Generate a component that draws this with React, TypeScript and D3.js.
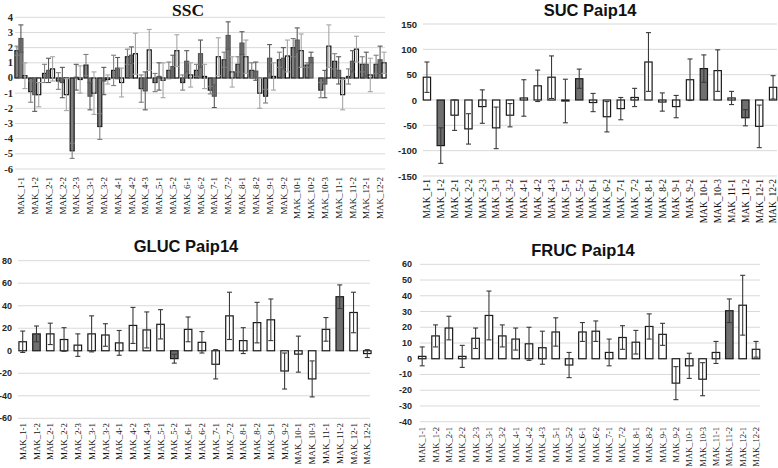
import * as d3 from 'd3';

// categories (SSC has MAK_10-2, the sugar panels do not)
const SSC_CATS = [
  'MAK_1-1', 'MAK_1-2', 'MAK_2-1', 'MAK_2-2', 'MAK_2-3', 'MAK_3-1', 'MAK_3-2',
  'MAK_4-1', 'MAK_4-2', 'MAK_4-3', 'MAK_5-1', 'MAK_5-2', 'MAK_6-1', 'MAK_6-2',
  'MAK_7-1', 'MAK_7-2', 'MAK_8-1', 'MAK_8-2', 'MAK_9-1', 'MAK_9-2', 'MAK_10-1',
  'MAK_10-2', 'MAK_10-3', 'MAK_11-1', 'MAK_11-2', 'MAK_12-1', 'MAK_12-2',
];
const SUGAR_CATS = SSC_CATS.filter((c) => c !== 'MAK_10-2');

// SSC, three overlapping series per category
const SSC_A = [1.8, -0.9, 0.3, -0.2, -4.8, 0.85, -3.2, 0.5, 1.4, -0.7, -0.3, 0.5, -0.3, 0.5, -0.8, 1.2, 0.9, 0.5, -1.2, 1.2, 2.0, 0.85, -0.8, 1.1, 0.1, 0.9, 0.9];
const SSC_A_ERR = [0.3, 0.7, 0.6, 0.55, 0.5, 0.7, 0.85, 1.0, 0.5, 0.9, 0.6, 0.55, 0.5, 0.4, 0.25, 0.5, 0.5, 0.5, 0.45, 0.5, 0.6, 0.15, 0.5, 0.5, 0.5, 0.5, 0.6];
const SSC_B = [2.6, -1.1, 0.5, -0.3, 0.05, -1.2, -0.2, 0.65, 1.5, -0.85, 0.1, 0.75, 1.1, 1.6, -1.2, 2.8, 2.3, 0.45, 1.3, 1.3, 2.5, 1.35, -0.4, 0.5, 1.1, 0.9, 1.2];
const SSC_B_ERR = [0.9, 1.1, 0.8, 1.0, 0.85, 0.9, 0.9, 0.7, 0.55, 1.25, 0.9, 0.75, 0.7, 0.9, 0.75, 0.9, 0.75, 0.6, 0.9, 0.7, 0.8, 0.35, 0.9, 0.9, 0.7, 0.8, 0.9];
const SSC_C = [0.15, -1.1, 0.6, -1.1, -0.1, -1.0, -0.1, -0.3, 1.6, 1.85, -0.15, 1.8, 0.2, 0.1, 1.4, 0.4, 1.4, -1.0, 0.1, 1.45, 1.8, 0, 2.1, -1.1, 1.9, 0.2, 1.0];
const SSC_C_ERR = [0.85, 0.8, 0.8, 1.05, 0.9, 1.4, 0.3, 0.95, 1.35, 1.35, 1.15, 1.05, 0.8, 0.8, 1.25, 1.0, 1.1, 1.0, 0.9, 1.05, 1.1, 0, 1.4, 1.0, 0.85, 1.1, 0.7];

const SUC_VALUES = [45, -90, -30, -57, -13, -55, -30, 4, 28, 45, -2, 42, -5, -33, -17, 5, 75, -4, -13, 40, 62, 58, 4, -35, -52, 25];
const SUC_ERR = [30, 35, 30, 30, 33, 41, 23, 36, 31, 42, 43, 19, 18, 30, 22, 18, 58, 18, 22, 41, 27, 41, 13, 16, 42, 23];
const SUC_DARK = ['MAK_1-2', 'MAK_5-2', 'MAK_10-1', 'MAK_11-2'];

const GLUC_VALUES = [8, 15, 15, 10, 5, 15, 14, 7, 22.5, 18.5, 23.5, -7, 19, 7.5, -12, 31, 9, 25, 27.5, -18, -3, -25, 19, 48, 34, -2.5];
const GLUC_ERR = [9.5, 7, 9.5, 10.5, 10, 16, 10, 11, 16, 16, 13, 4, 11, 9.5, 13, 21, 11.5, 18, 18.5, 16, 16, 16, 10.5, 10.5, 18, 3.5];
const GLUC_DARK = ['MAK_1-2', 'MAK_5-2', 'MAK_11-2'];

const FRUC_VALUES = [1.5, 14.5, 19.5, 1.5, 13, 27.5, 14.5, 12.5, 9.5, 7, 17, -4, 17, 17.5, 4, 13.5, 10.5, 20.5, 15.5, -15.5, -4.5, -13, 4, 30.5, 34, 6];
const FRUC_ERR = [6, 7, 7.5, 7, 6.5, 15.5, 7, 7, 10.5, 10.5, 9, 8, 6, 6.5, 8.5, 7.5, 7.5, 8, 7, 10.5, 8, 10.5, 7, 7.5, 19, 5];
const FRUC_DARK = ['MAK_11-2'];

const SSC_TICKS = [4, 3, 2, 1, 0, -1, -2, -3, -4, -5, -6];
const SUC_TICKS = [150, 100, 50, 0, -50, -100, -150];
const GLUC_TICKS = [80, 60, 40, 20, 0, -20, -40, -60];
const FRUC_TICKS = [60, 50, 40, 30, 20, 10, 0, -10, -20, -30, -40];

const SERIF = '"Liberation Serif", "Times New Roman", serif';
const SANS = '"Liberation Sans", Arial, sans-serif';

interface Series {
  values: number[];
  errors: number[];
  fill: (cat: string) => string;
  stroke: string;
  errColor: string;
}

interface PanelProps {
  title: string;
  titleX: number;
  titleY: number;
  titleFont: string;
  titleSize: number;
  cats: string[];
  series: Series[];
  domain: [number, number];
  ticks: number[];
  xRange: [number, number];
  yRange: [number, number];
  grid: [number, number];
  tickRight: number;
  tickFont: string;
  tickSize: number;
  labelTop: number;
  labelSize: number;
  groupWidth: number;
}

function Panel(p: PanelProps) {
  const x = d3.scaleBand<string>().domain(p.cats).range(p.xRange);
  const y = d3.scaleLinear().domain(p.domain).range(p.yRange);
  const keys = p.series.map((_, i) => String(i));
  const x1 = d3.scaleBand<string>().domain(keys).range([0, p.groupWidth]);
  const bw = x1.bandwidth();
  const cap = Math.min(5, bw + 1);

  return (
    <g>
      <text
        x={p.titleX}
        y={p.titleY}
        textAnchor="middle"
        fontFamily={p.titleFont}
        fontWeight="bold"
        fontSize={p.titleSize}
        fill="#111"
      >
        {p.title}
      </text>
      {p.ticks.map((t) => (
        <g key={t}>
          <line x1={p.grid[0]} x2={p.grid[1]} y1={y(t)} y2={y(t)} stroke="#d9d9d9" strokeWidth={1} />
          <text
            x={p.tickRight}
            y={y(t)}
            textAnchor="end"
            dominantBaseline="central"
            fontFamily={p.tickFont}
            fontWeight="bold"
            fontSize={p.tickSize}
            fill="#262626"
          >
            {t}
          </text>
        </g>
      ))}
      {p.cats.map((c, ci) => {
        const cx = (x(c) ?? 0) + x.bandwidth() / 2;
        const gx = cx - p.groupWidth / 2;
        return (
          <g key={c}>
            {p.series.map((s, si) => {
              const v = s.values[ci];
              const bx = gx + (x1(String(si)) ?? 0);
              return (
                <rect
                  key={'b' + si}
                  x={bx}
                  y={Math.min(y(v), y(0))}
                  width={bw}
                  height={Math.abs(y(v) - y(0))}
                  fill={s.fill(c)}
                  stroke={s.stroke}
                  strokeWidth={1.2}
                />
              );
            })}
            {p.series.map((s, si) => {
              const v = s.values[ci];
              const e = s.errors[ci];
              if (!e) return null;
              const ex = gx + (x1(String(si)) ?? 0) + bw / 2;
              return (
                <g key={'e' + si} stroke={s.errColor} strokeWidth={1.1}>
                  <line x1={ex} x2={ex} y1={y(v - e)} y2={y(v + e)} />
                  <line x1={ex - cap / 2} x2={ex + cap / 2} y1={y(v - e)} y2={y(v - e)} />
                  <line x1={ex - cap / 2} x2={ex + cap / 2} y1={y(v + e)} y2={y(v + e)} />
                </g>
              );
            })}
            <text
              transform={`translate(${cx + p.labelSize * 0.35},${p.labelTop}) rotate(-90)`}
              textAnchor="end"
              fontFamily={SERIF}
              fontSize={p.labelSize}
              fill="#111"
            >
              {c}
            </text>
          </g>
        );
      })}
    </g>
  );
}

export default function App() {
  const sugarSeries = (values: number[], errors: number[], dark: string[]): Series[] => [
    {
      values,
      errors,
      fill: (c) => (dark.includes(c) ? '#6f6f6f' : '#ffffff'),
      stroke: '#1a1a1a',
      errColor: '#3a3a3a',
    },
  ];

  const sscSeries: Series[] = [
    { values: SSC_A, errors: SSC_A_ERR, fill: () => '#808080', stroke: '#1a1a1a', errColor: '#7f7f7f' },
    { values: SSC_B, errors: SSC_B_ERR, fill: () => '#7a7a7a', stroke: '#555555', errColor: '#595959' },
    { values: SSC_C, errors: SSC_C_ERR, fill: () => '#ffffff', stroke: '#111111', errColor: '#a6a6a6' },
  ];

  return (
    <svg
      width={778}
      height={468}
      style={{ position: 'absolute', left: 0, top: 0, background: '#fff' }}
    >
      <rect width={778} height={468} fill="#fff" />
      <Panel
        title="SSC"
        titleX={188}
        titleY={16}
        titleFont={SERIF}
        titleSize={17.5}
        cats={SSC_CATS}
        series={sscSeries}
        domain={[-6, 4]}
        ticks={SSC_TICKS}
        xRange={[14, 387]}
        yRange={[169, 17.3]}
        grid={[15, 385]}
        tickRight={13}
        tickFont={SERIF}
        tickSize={10.5}
        labelTop={177}
        labelSize={9}
        groupWidth={12}
      />
      <Panel
        title="SUC Paip14"
        titleX={590}
        titleY={16}
        titleFont={SANS}
        titleSize={16.5}
        cats={SUGAR_CATS}
        series={sugarSeries(SUC_VALUES, SUC_ERR, SUC_DARK)}
        domain={[-150, 150]}
        ticks={SUC_TICKS}
        xRange={[420, 780]}
        yRange={[176, 24]}
        grid={[423, 777]}
        tickRight={417}
        tickFont={SANS}
        tickSize={9.5}
        labelTop={179}
        labelSize={9.5}
        groupWidth={7.3}
      />
      <Panel
        title="GLUC Paip14"
        titleX={186}
        titleY={252}
        titleFont={SANS}
        titleSize={16.5}
        cats={SUGAR_CATS}
        series={sugarSeries(GLUC_VALUES, GLUC_ERR, GLUC_DARK)}
        domain={[-60, 80]}
        ticks={GLUC_TICKS}
        xRange={[15.8, 374.2]}
        yRange={[418.3, 260.7]}
        grid={[18, 370]}
        tickRight={12}
        tickFont={SANS}
        tickSize={9}
        labelTop={423}
        labelSize={8.9}
        groupWidth={7.5}
      />
      <Panel
        title="FRUC Paip14"
        titleX={583}
        titleY={256}
        titleFont={SANS}
        titleSize={16.5}
        cats={SUGAR_CATS}
        series={sugarSeries(FRUC_VALUES, FRUC_ERR, FRUC_DARK)}
        domain={[-40, 60]}
        ticks={FRUC_TICKS}
        xRange={[415.5, 762.7]}
        yRange={[421.7, 264.3]}
        grid={[420, 760]}
        tickRight={412}
        tickFont={SANS}
        tickSize={9}
        labelTop={427}
        labelSize={8.5}
        groupWidth={7.5}
      />
    </svg>
  );
}
